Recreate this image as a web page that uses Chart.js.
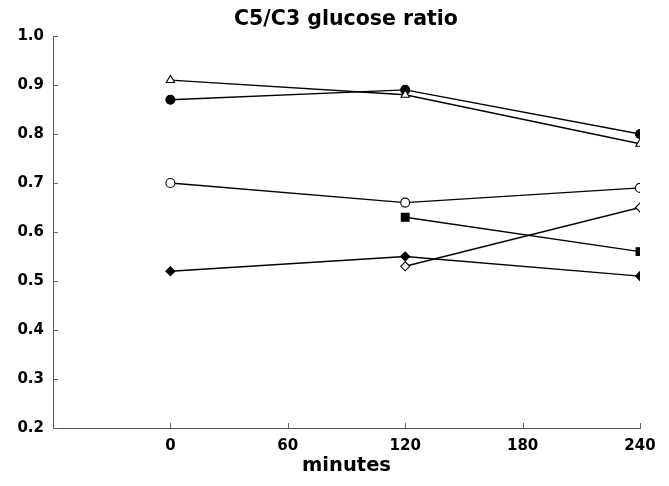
<!DOCTYPE html>
<html><head><meta charset="utf-8">
<script src="https://cdn.jsdelivr.net/npm/chart.js@4/dist/chart.umd.min.js"></script>
<style>html,body{margin:0;padding:0;background:#fff}#wrap{width:669px;height:486px}</style>
</head><body><div id="wrap"><canvas id="c" width="669" height="486"></canvas></div>
<script>
const minutes = [0, 120, 240];
const openTriangle = [0.91, 0.88, 0.78];
const filledCircle = [0.87, 0.89, 0.80];
const openCircle = [0.70, 0.66, 0.69];
const filledSquare = [null, 0.63, 0.56];
const openDiamond = [null, 0.53, 0.65];
const filledDiamond = [0.52, 0.55, 0.51];
const xTicks = [0, 60, 120, 180, 240];
const yTicks = [0.2, 0.3, 0.4, 0.5, 0.6, 0.7, 0.8, 0.9, 1.0];

function pts(vals){ return minutes.map((m,i)=>({x:m,y:vals[i]})).filter(p=>p.y!==null); }
function ds(vals, style, filled, r){
  return {data: pts(vals), borderColor:'#000', borderWidth:1.4, pointStyle:style,
    pointRadius:r, pointHoverRadius:r, pointBackgroundColor: filled?'#000':'#fff',
    pointBorderColor:'#000', pointBorderWidth:1.1, tension:0, fill:false};
}
const tickPlugin = {
  id:'inwardTicks',
  afterLayout(chart){
    const t = chart.titleBlock;
    if (t) { t.left = 52; t.width = t.right - t.left; }
  },
  afterDatasetsDraw(chart){
    const ctx=chart.ctx, x=chart.scales.x, y=chart.scales.y, a=chart.chartArea;
    ctx.save(); ctx.strokeStyle='#666'; ctx.lineWidth=1;
    yTicks.forEach(v=>{const py=Math.round(y.getPixelForValue(v))+0.5; ctx.beginPath(); ctx.moveTo(a.left,py); ctx.lineTo(a.left+5,py); ctx.stroke();});
    xTicks.forEach(v=>{const px=Math.round(x.getPixelForValue(v))+0.5; ctx.beginPath(); ctx.moveTo(px,a.bottom); ctx.lineTo(px,a.bottom-5); ctx.stroke();});
    ctx.restore();
  }
};
const font = '"DejaVu Sans", Verdana, sans-serif';
new Chart(document.getElementById('c'), {
  type:'line',
  data:{datasets:[
    ds(openTriangle,'triangle',false,4.8),
    ds(filledCircle,'circle',true,4.5),
    ds(openCircle,'circle',false,4.5),
    ds(filledSquare,'rect',true,5.5),
    ds(openDiamond,'rectRot',false,4.5),
    ds(filledDiamond,'rectRot',true,4.5)
  ]},
  options:{
    responsive:false, animation:false,
    layout:{padding:{left:0,right:29,top:0,bottom:0}},
    plugins:{legend:{display:false}, tooltip:{enabled:false},
      title:{display:true, text:'C5/C3 glucose ratio', color:'#000',
        font:{family:font, size:20.5, weight:'bold'}, padding:{top:7,bottom:4.4}}},
    scales:{
      x:{type:'linear', min:-60, max:240,
        afterBuildTicks(s){ s.ticks = [-60].concat(xTicks).map(v=>({value:v})); },
        afterFit(s){ s.height=58; },
        grid:{display:false, drawTicks:false},
        border:{display:true,color:'#555',width:1},
        ticks:{color:'#000', padding:9, font:{family:font,size:15,weight:'bold'},
          callback:(v)=> xTicks.includes(v)? String(v) : ''},
        title:{display:true, text:'minutes', color:'#000', font:{family:font,size:19.5,weight:'bold'}, padding:{top:0,bottom:8}}
      },
      y:{type:'linear', min:0.2, max:1.0,
        afterBuildTicks(s){ s.ticks = yTicks.map(v=>({value:v})); },
        afterFit(s){ s.width=53; },
        grid:{display:false, drawTicks:false},
        border:{display:true,color:'#555',width:1},
        ticks:{color:'#000', padding:9, font:{family:font,size:15,weight:'bold'},
          callback:(v)=> Number(v).toFixed(1)}
      }
    }
  },
  plugins:[tickPlugin]
});
</script></body></html>
